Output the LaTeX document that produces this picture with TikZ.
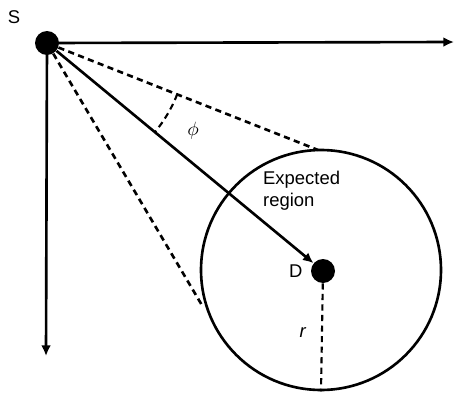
\documentclass[tikz,border=0pt]{standalone}
\usepackage{fontspec}
\setmainfont{Liberation Sans}
\usepackage{tikz}
\usetikzlibrary{arrows.meta, positioning, calc}

\begin{document}
\begin{tikzpicture}[x=0.02cm, y=-0.02cm, every node/.style={font=\fontsize{10.5}{12.5}\selectfont}]
\tikzstyle{dot} = [circle, fill=black, inner sep=0pt, minimum size=0.48cm]
\tikzstyle{axis} = [line width=1.5pt, -{Latex[length=6pt, width=5.5pt]}]
\tikzstyle{cone} = [line width=1.5pt, dash pattern=on 3.5pt off 2.5pt]
\tikzstyle{lbl} = [inner sep=1pt]

\useasboundingbox (0,0) rectangle (456,392);

% Source and destination
\node (S) [dot] at (47,43) {};
\node (D) [dot] at (323,271) {};
\node (slbl) [lbl] at (14,17) {S};
\node (dlbl) [lbl, left=0.12cm of D] {D};

% Expected region
\node (region) [circle, draw, line width=1.5pt, minimum size=4.8cm, inner sep=0pt] at (321,270) {};
\node (txt) [lbl, align=left, anchor=north west] at (261,169) {Expected\\region};

% Axes
\coordinate (xend) at (454,42);
\coordinate (yend) at (46,356);
\draw [axis] (S.center) -- (xend);
\draw [axis] (S.center) -- (yend);

% Cone of the region
\coordinate (tu) at (318,150);
\coordinate (tl) at (203,307);
\draw [cone] (S) -- (tu);
\draw [cone] (S) -- (tl);

% Direction to D
\draw [line width=1.5pt, -{Latex[length=6pt, width=5.5pt]}] (S) -- (D);

% Angle phi
\draw [cone, line width=1.2pt] (S.center) ++(-21.5:2.8cm) arc[start angle=-21.5, end angle=-39.6, radius=2.8cm];
\node (phi) [lbl] at (193,131) {$\phi$};

% Radius r
\draw [cone, line width=1.2pt] (D) -- (region.south);
\node (rlbl) [lbl] at (303,333) {\textit{r}};

\end{tikzpicture}
\end{document}
